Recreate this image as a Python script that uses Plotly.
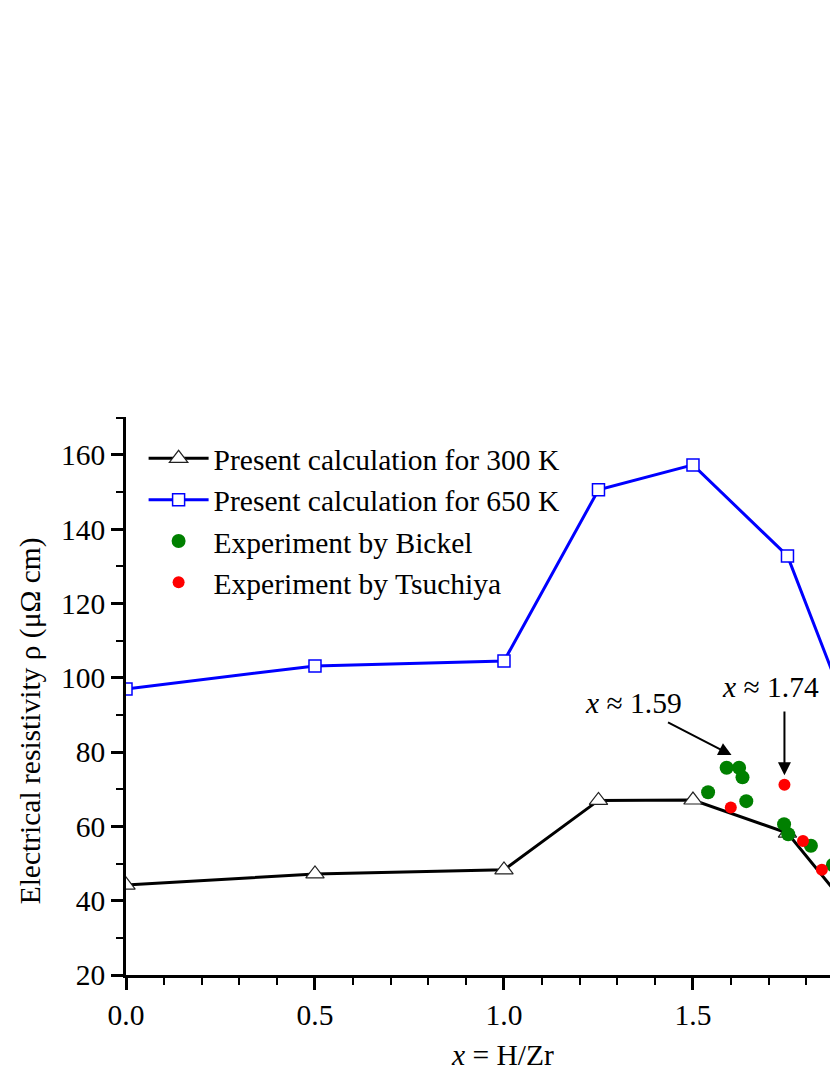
import plotly.graph_objects as go

# ---- data ----
x_calc = [0.0, 0.5, 1.0, 1.25, 1.5, 1.75, 2.0]
rho_300K = [44.2, 47.2, 48.3, 67.0, 67.1, 58.2, 27.0]
rho_650K = [97.0, 103.2, 104.5, 150.6, 157.3, 132.8, 67.0]

x_bickel = [1.540, 1.589, 1.622, 1.631, 1.641, 1.741, 1.752, 1.812, 1.870]
rho_bickel = [69.2, 75.8, 75.8, 73.2, 66.8, 60.6, 57.9, 54.8, 49.6]

x_tsuchiya = [1.600, 1.742, 1.791, 1.841]
rho_tsuchiya = [65.1, 71.2, 56.1, 48.3]

x_ticks = [0.0, 0.5, 1.0, 1.5]
x_ticklabels = ["0.0", "0.5", "1.0", "1.5"]
y_ticks = [20, 40, 60, 80, 100, 120, 140, 160]

FONT = "Liberation Serif"
FS = 29.5

fig = go.Figure()
fig.add_trace(go.Scatter(
    x=x_calc, y=rho_300K, mode="lines+markers",
    name="Present calculation for 300 K",
    line=dict(color="black", width=3),
    marker=dict(symbol="triangle-up", size=16, color="white",
                line=dict(color="#222222", width=1.2)),
))
fig.add_trace(go.Scatter(
    x=x_calc, y=rho_650K, mode="lines+markers",
    name="Present calculation for 650 K",
    line=dict(color="#0000ff", width=3),
    marker=dict(symbol="square", size=12, color="white",
                line=dict(color="#0000ff", width=1.5)),
))
fig.add_trace(go.Scatter(
    x=x_bickel, y=rho_bickel, mode="markers",
    name="Experiment by Bickel",
    marker=dict(symbol="circle", size=14, color="#008000"),
))
fig.add_trace(go.Scatter(
    x=x_tsuchiya, y=rho_tsuchiya, mode="markers",
    name="Experiment by Tsuchiya",
    marker=dict(symbol="circle", size=12, color="#ff0000"),
))

# arrows
fig.add_annotation(x=1.602, y=79.2, ax=1.430, ay=88.2, xref="x", yref="y",
                   axref="x", ayref="y", text="", showarrow=True,
                   arrowhead=2, arrowsize=1.3, arrowwidth=2, arrowcolor="black")
fig.add_annotation(x=1.742, y=73.8, ax=1.742, ay=91.3, xref="x", yref="y",
                   axref="x", ayref="y", text="", showarrow=True,
                   arrowhead=2, arrowsize=1.3, arrowwidth=2, arrowcolor="black")
fig.add_annotation(x=1.342, y=93.2, xref="x", yref="y", text="<i>x</i> ≈ 1.59",
                   xanchor="center", yanchor="middle",
                   showarrow=False, font=dict(family=FONT, size=FS, color="black"))
fig.add_annotation(x=1.704, y=97.4, xref="x", yref="y", text="<i>x</i> ≈ 1.74",
                   xanchor="center", yanchor="middle",
                   showarrow=False, font=dict(family=FONT, size=FS, color="black"))

# axis titles
fig.add_annotation(x=-0.136, y=0.455, xref="paper", yref="paper",
                   xanchor="center", yanchor="middle",
                   text="Electrical resistivity ρ (μΩ cm)", textangle=-90,
                   showarrow=False, font=dict(family=FONT, size=FS, color="black"))
fig.add_annotation(x=0.5355, y=-0.143, xref="paper", yref="paper",
                   xanchor="center", yanchor="middle",
                   text="<i>x</i> = H/Zr",
                   showarrow=False, font=dict(family=FONT, size=FS, color="black"))

fig.update_layout(
    width=830, height=1075,
    margin=dict(l=126, r=0, t=417, b=100),
    paper_bgcolor="white", plot_bgcolor="white",
    font=dict(family=FONT, size=FS, color="black"),
    showlegend=True,
    legend=dict(x=0.025, y=0.972, xanchor="left", yanchor="top",
                bgcolor="rgba(0,0,0,0)", font=dict(family=FONT, size=FS),
                tracegroupgap=0, itemwidth=60),
)
fig.update_xaxes(
    range=[0, 1.8625], showgrid=False, zeroline=False,
    showline=True, linecolor="black", linewidth=2.5,
    ticks="outside", ticklen=12, tickwidth=2.5, tickcolor="black",
    tickvals=x_ticks, ticktext=x_ticklabels,
    minor=dict(dtick=0.1, ticks="outside", ticklen=7, tickwidth=2, tickcolor="black"),
    tickfont=dict(family=FONT, size=FS),
)
fig.update_yaxes(
    range=[20, 170.2], showgrid=False, zeroline=False,
    showline=True, linecolor="black", linewidth=2.5,
    ticks="outside", ticklen=12, tickwidth=2.5, tickcolor="black",
    tickvals=y_ticks,
    minor=dict(dtick=10, ticks="outside", ticklen=7, tickwidth=2, tickcolor="black"),
    tickfont=dict(family=FONT, size=FS),
)

fig.write_html(
    "out.html",
    config={"displayModeBar": False},
    post_script="document.body.style.margin='0';document.body.style.overflow='hidden';",
)
